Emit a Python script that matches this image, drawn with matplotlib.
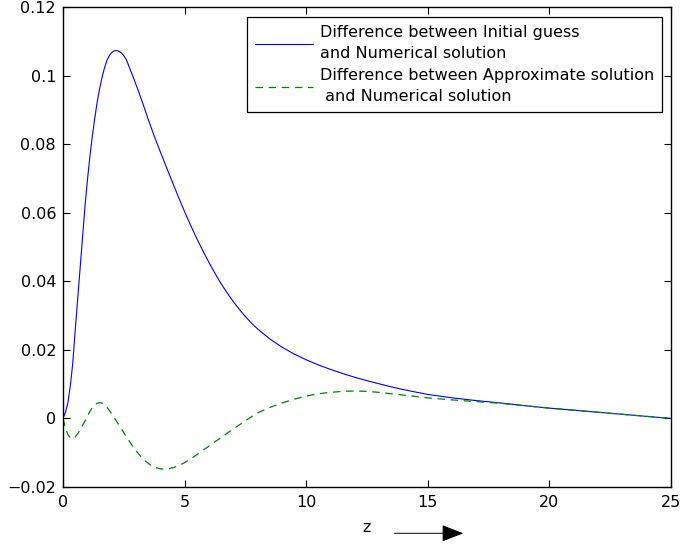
import numpy as np
import matplotlib
matplotlib.use('Agg')
import matplotlib.pyplot as plt
from matplotlib.patches import FancyArrowPatch

plt.rcParams["font.family"] = ["DejaVu Sans"]

# difference between initial guess and numerical solution
z_init = [0, 0.1, 0.2, 0.3, 0.4, 0.5, 0.6, 0.7, 0.8, 0.9, 1.0, 1.1, 1.2, 1.3,
          1.4, 1.5, 1.6, 1.7, 1.8, 1.9, 2.0, 2.1, 2.2, 2.3, 2.4, 2.5, 2.6,
          2.75, 2.9, 3.1, 3.3, 3.5, 3.75, 4.0, 4.25, 4.5, 4.75, 5.0, 5.25,
          5.5, 5.75, 6.0, 6.25, 6.5, 6.75, 7.0, 7.25, 7.5, 7.75, 8.0, 8.5,
          9.0, 9.5, 10.0, 10.5, 11.0, 11.5, 12.0, 12.5, 13.0, 13.5, 14.0,
          14.5, 15.0, 16, 17, 18, 19, 20, 21, 22, 23, 24, 25]
d_init = [0, 0.0018, 0.0045, 0.0095, 0.0160, 0.0255, 0.0345, 0.0435, 0.0525,
          0.0615, 0.0692, 0.0760, 0.0820, 0.0873, 0.0920, 0.0960, 0.0993,
          0.1021, 0.1043, 0.1058, 0.1067, 0.1072, 0.1073, 0.1071, 0.1066,
          0.1058, 0.1047, 0.1020, 0.0993, 0.0955, 0.0915, 0.0873, 0.0824,
          0.0778, 0.0733, 0.0689, 0.0645, 0.0603, 0.0563, 0.0525, 0.0489,
          0.0455, 0.0423, 0.0393, 0.0366, 0.0341, 0.0318, 0.0297, 0.0278,
          0.0261, 0.0232, 0.0208, 0.0188, 0.0171, 0.0156, 0.0143, 0.0131,
          0.0120, 0.0110, 0.0101, 0.0092, 0.0084, 0.0077, 0.0070, 0.0060,
          0.0052, 0.0045, 0.0037, 0.0030, 0.0024, 0.0018, 0.0012, 0.0006, 0.0]

# difference between approximate solution and numerical solution
z_appr = [0, 0.1, 0.2, 0.3, 0.4, 0.5, 0.6, 0.7, 0.8, 0.9, 1.0, 1.1, 1.2, 1.3,
          1.4, 1.5, 1.6, 1.7, 1.8, 1.9, 2.0, 2.2, 2.4, 2.6, 2.8, 3.0, 3.2,
          3.4, 3.6, 3.8, 4.0, 4.2, 4.4, 4.6, 4.8, 5.0, 5.25, 5.5, 5.75, 6.0,
          6.25, 6.5, 6.75, 7.0, 7.25, 7.5, 7.75, 8.0, 8.5, 9.0, 9.5, 10.0,
          10.5, 11.0, 11.5, 12.0, 12.5, 13.0, 13.5, 14.0, 14.5, 15.0, 15.5,
          16, 17, 18, 19, 20, 21, 22, 23, 24, 25]
d_appr = [0, -0.0028, -0.0047, -0.0057, -0.0059, -0.0054, -0.0045, -0.0034,
          -0.0021, -0.0008, 0.0006, 0.0020, 0.0031, 0.0039, 0.0044, 0.0046,
          0.0045, 0.0040, 0.0033, 0.0024, 0.0014, -0.0008, -0.0030, -0.0053,
          -0.0074, -0.0094, -0.0111, -0.0125, -0.0136, -0.0143, -0.0147,
          -0.0148, -0.0146, -0.0142, -0.0136, -0.0129, -0.0118, -0.0106,
          -0.0093, -0.0081, -0.0068, -0.0056, -0.0043, -0.0031, -0.0019,
          -0.0007, 0.0005, 0.0016, 0.0032, 0.0045, 0.0056, 0.0065, 0.0072,
          0.0076, 0.0079, 0.0080, 0.0079, 0.0076, 0.0072, 0.0068, 0.0064,
          0.0060, 0.0057, 0.0054, 0.0049, 0.0044, 0.0037, 0.0030, 0.0024,
          0.0018, 0.0012, 0.0006, 0.0]

xticks = [0, 5, 10, 15, 20, 25]
yticks = [-0.02, 0, 0.02, 0.04, 0.06, 0.08, 0.1, 0.12]
ytick_labels = ['\u22120.02', '0', '0.02', '0.04', '0.06', '0.08', '0.1', '0.12']

fs = 11.5

fig = plt.figure(figsize=(6.82, 5.44), dpi=100)
ax = fig.add_axes([63/682, 57/544, 608/682, 480/544])

ax.plot(z_init, d_init, color='#0000ff', lw=0.8,
        label='Difference between Initial guess\nand Numerical solution')
ax.plot(z_appr, d_appr, color='#008000', lw=0.9, dashes=(6, 4.5),
        label='Difference between Approximate solution\n and Numerical solution')

ax.set_xlim(0, 25)
ax.set_ylim(-0.02, 0.12)
ax.set_xticks(xticks)
ax.set_xticklabels([str(t) for t in xticks])
ax.set_yticks(yticks)
ax.set_yticklabels(ytick_labels)
ax.tick_params(direction='in', length=5, width=0.8, top=True, right=True,
               labelsize=fs, colors='k')
ax.tick_params(axis='x', pad=6)
ax.tick_params(axis='y', pad=5)
for s in ax.spines.values():
    s.set_linewidth(1.0)

ax.set_xlabel('z', fontsize=fs, labelpad=7)

leg = ax.legend(loc='upper right', bbox_to_anchor=(662.3/682, 1 - 17.3/544),
                bbox_transform=fig.transFigure, borderaxespad=0,
                fancybox=False, framealpha=1, edgecolor='k', fontsize=fs,
                handlelength=3.6, handletextpad=0.45, labelspacing=0.45,
                borderpad=0.5)
leg.get_frame().set_linewidth(0.9)
for t in leg.get_texts():
    t.set_linespacing(1.5)

# arrow next to the z label
fig.add_artist(FancyArrowPatch(
    (391.7/682, 1 - 533.3/544), (466/682, 1 - 533.3/544),
    transform=fig.transFigure, arrowstyle='-|>,head_length=0.9,head_width=0.35',
    mutation_scale=15, lw=0.7, color='k'))

plt.savefig('out.png', dpi=100)
